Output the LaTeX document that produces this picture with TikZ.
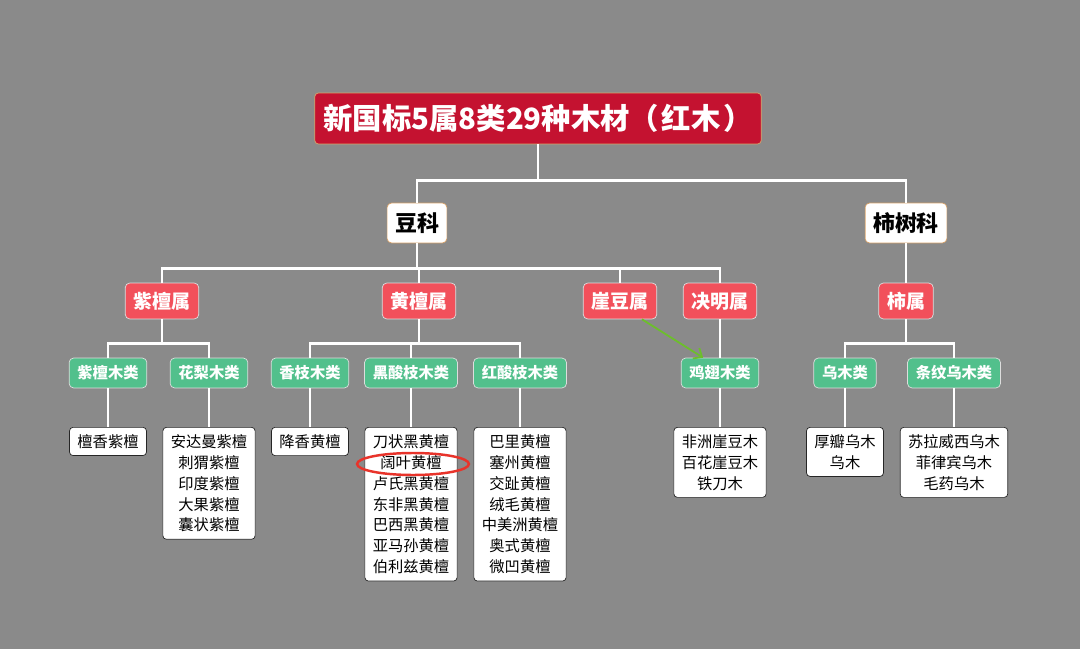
\documentclass[tikz,border=0pt]{standalone}
\usepackage{fontspec}
\setmainfont{Noto Sans CJK SC}
\usetikzlibrary{arrows.meta}

\definecolor{bg}{HTML}{8A8A8A}
\definecolor{titlered}{HTML}{C41230}
\definecolor{genred}{HTML}{F2505B}
\definecolor{clsgreen}{HTML}{52C08C}
\definecolor{tanline}{HTML}{D9A36A}
\definecolor{paleline}{HTML}{DDDDDD}
\definecolor{arrowgreen}{HTML}{6CBF2A}
\definecolor{ringred}{HTML}{E8332A}

\tikzset{
  root/.style={draw=tanline, fill=titlered, text=white, rounded corners=2pt,
    font=\fontsize{16.7}{20}\selectfont\bfseries, inner xsep=5pt, minimum height=29pt},
  family/.style={draw=tanline, fill=white, rounded corners=2.5pt,
    font=\fontsize{12.5}{15}\selectfont\bfseries, inner xsep=4.5pt, minimum height=22.7pt},
  genus/.style={draw=paleline, fill=genred, text=white, rounded corners=2.5pt,
    font=\fontsize{10.8}{13}\selectfont\bfseries, inner xsep=4.7pt, minimum height=20.4pt},
  wclass/.style={draw=paleline, fill=clsgreen, text=white, rounded corners=2.5pt,
    font=\fontsize{8.7}{11}\selectfont\bfseries, inner xsep=4.7pt, minimum height=17pt},
  wood/.style={draw=black!85, fill=white, rounded corners=2pt, align=center, anchor=north,
    font=\fontsize{8.7}{11.9}\selectfont, inner xsep=4.5pt, inner ysep=4pt},
  link/.style={draw=white, line width=1.5pt},
}

\begin{document}
\begin{tikzpicture}[x=0.02cm, y=-0.02cm]
  \useasboundingbox[fill=bg] (0,0) rectangle (1080,649);

  % root and families
  \node[root]   (root)  at (538,118.5) {新国标5属8类29种木材（\hspace{1.5pt}红木\hspace{1.5pt}）};
  \node[family] (douke) at (417,223)   {豆科};
  \node[family] (shike) at (906,223)   {柿树科};

  % genera
  \node[genus] (zitanshu)    at (162,301) {紫檀属};
  \node[genus] (huangtanshu) at (419,301) {黄檀属};
  \node[genus] (yadoushu)    at (620,301) {崖豆属};
  \node[genus] (juemingshu)  at (720,301) {决明属};
  \node[genus] (shishu)      at (906,301) {柿属};

  % classes
  \node[wclass] (zitanlei)    at (108,373) {紫檀木类};
  \node[wclass] (hualilei)    at (209,373) {花梨木类};
  \node[wclass] (xiangzhilei) at (310,373) {香枝木类};
  \node[wclass] (heisuanlei)  at (411,373) {黑酸枝木类};
  \node[wclass] (hongsuanlei) at (520,373) {红酸枝木类};
  \node[wclass] (jichilei)    at (720,373) {鸡翅木类};
  \node[wclass] (wumulei)     at (845,373) {乌木类};
  \node[wclass] (tiaowenlei)  at (954,373) {条纹乌木类};

  % woods
  \node[wood] (zitanwood)    at (108,427) {檀香紫檀};
  \node[wood] (hualiwood)    at (209,427) {安达曼紫檀\\刺猬紫檀\\印度紫檀\\大果紫檀\\囊状紫檀};
  \node[wood] (xiangzhiwood) at (310,427) {降香黄檀};
  \node[wood] (heisuanwood)  at (411,427) {刀状黑黄檀\\阔叶黄檀\\卢氏黑黄檀\\东非黑黄檀\\巴西黑黄檀\\亚马孙黄檀\\伯利兹黄檀};
  \node[wood] (hongsuanwood) at (520,427) {巴里黄檀\\塞州黄檀\\交趾黄檀\\绒毛黄檀\\中美洲黄檀\\奥式黄檀\\微凹黄檀};
  \node[wood] (jichiwood)    at (720,427) {非洲崖豆木\\百花崖豆木\\铁刀木};
  \node[wood] (wumuwood)     at (845,427) {厚瓣乌木\\乌木};
  \node[wood] (tiaowenwood)  at (954,427) {苏拉威西乌木\\菲律宾乌木\\毛药乌木};

  % links
  \draw[link] (root.south) -- +(0,36) -| (douke.north);
  \draw[link] (root.south) -- +(0,36) -| (shike.north);
  \draw[link] (douke.south) -- +(0,25) -| (zitanshu.north);
  \draw[link] (douke.south) -- +(0,25) -| (huangtanshu.north);
  \draw[link] (douke.south) -- +(0,25) -| (yadoushu.north);
  \draw[link] (douke.south) -- +(0,25) -| (juemingshu.north);
  \draw[link] (shike.south) -- (shishu.north);
  \draw[link] (zitanshu.south) -- +(0,24) -| (zitanlei.north);
  \draw[link] (zitanshu.south) -- +(0,24) -| (hualilei.north);
  \draw[link] (huangtanshu.south) -- +(0,24) -| (xiangzhilei.north);
  \draw[link] (huangtanshu.south) -- +(0,24) -| (heisuanlei.north);
  \draw[link] (huangtanshu.south) -- +(0,24) -| (hongsuanlei.north);
  \draw[link] (juemingshu.south) -- (jichilei.north);
  \draw[link] (shishu.south) -- +(0,24) -| (wumulei.north);
  \draw[link] (shishu.south) -- +(0,24) -| (tiaowenlei.north);
  \draw[link] (zitanlei.south) -- (zitanwood.north);
  \draw[link] (hualilei.south) -- (hualiwood.north);
  \draw[link] (xiangzhilei.south) -- (xiangzhiwood.north);
  \draw[link] (heisuanlei.south) -- (heisuanwood.north);
  \draw[link] (hongsuanlei.south) -- (hongsuanwood.north);
  \draw[link] (jichilei.south) -- (jichiwood.north);
  \draw[link] (wumulei.south) -- (wumuwood.north);
  \draw[link] (tiaowenlei.south) -- (tiaowenwood.north);

  \draw[arrowgreen, line width=1pt, -{Straight Barb[length=4pt, width=7pt]}]
    ([xshift=12.5pt]yadoushu.south) -- ([xshift=-9.6pt]jichilei.north);

  % mark
  \draw[ringred, line width=1.4pt] (413,464) ellipse (1.12cm and 0.22cm);
\end{tikzpicture}
\end{document}
